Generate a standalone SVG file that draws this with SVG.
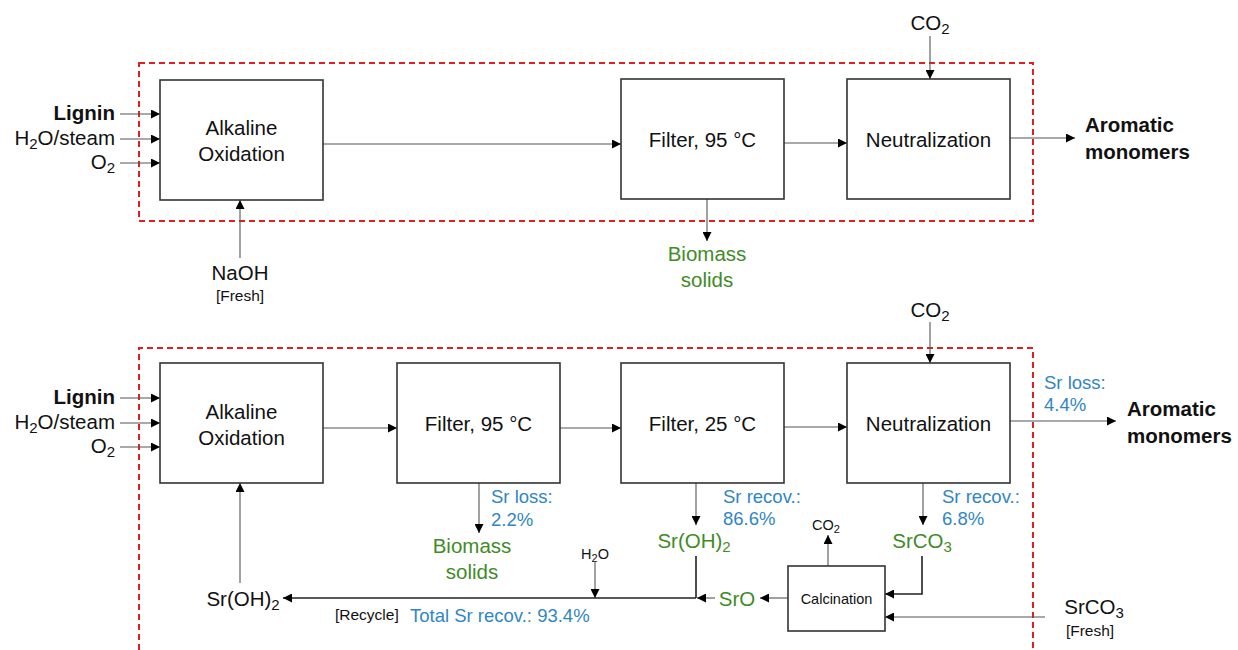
<svg xmlns="http://www.w3.org/2000/svg" width="1238" height="650" viewBox="0 0 1238 650">
<defs>
  <marker id="ah" viewBox="0 0 10 10" refX="10" refY="5" markerWidth="9" markerHeight="9" markerUnits="userSpaceOnUse" orient="auto">
    <path d="M0,0 L10,5 L0,10 Z" fill="#000"/>
  </marker>
  <style>
    text { font-family: "Liberation Sans", Arial, sans-serif; fill: #111; }
    .box { fill: #fff; stroke: #333; stroke-width: 1.6; }
    .lbl { font-size: 20.5px; text-anchor: middle; }
    .feed { font-size: 20.5px; text-anchor: end; }
    .bold { font-weight: bold; }
    .big { font-size: 20.5px; }
    .green { fill: #3f8c27; }
    .blue { fill: #2f86c4; font-size: 18.5px; }
    .small { font-size: 15.5px; }
    .tiny { font-size: 14.5px; }
    .wire { fill: none; stroke: #555; stroke-width: 1.1; }
    .dark { fill: none; stroke: #222; stroke-width: 1.6; }
    .arr { marker-end: url(#ah); }
    .frame { fill: none; stroke: #e02020; stroke-width: 2; stroke-dasharray: 6 4; }
  </style>
</defs>

<!-- process boundaries -->
<rect class="frame" x="139" y="63" width="894" height="158"/>
<path class="frame" d="M139,660 V348 H1033 V660"/>

<!-- connectors -->
<g id="connectors">
  <!-- upper flowsheet -->
  <line class="wire arr" x1="120" y1="114" x2="160" y2="114"/>
  <line class="wire arr" x1="120" y1="139" x2="160" y2="139"/>
  <line class="wire arr" x1="120" y1="163" x2="160" y2="163"/>
  <line class="wire arr" x1="240" y1="258" x2="240" y2="200"/>
  <line class="wire arr" x1="323" y1="144" x2="621" y2="144"/>
  <line class="wire arr" x1="784" y1="143" x2="847" y2="143"/>
  <line class="wire arr" x1="930" y1="36" x2="930" y2="79"/>
  <line class="wire arr" x1="1010" y1="138" x2="1075" y2="138"/>
  <line class="wire arr" x1="707" y1="199" x2="707" y2="241"/>

  <!-- lower flowsheet -->
  <line class="wire arr" x1="120" y1="398" x2="160" y2="398"/>
  <line class="wire arr" x1="120" y1="423" x2="160" y2="423"/>
  <line class="wire arr" x1="120" y1="447" x2="160" y2="447"/>
  <line class="wire arr" x1="323" y1="428" x2="397" y2="428"/>
  <line class="wire arr" x1="560" y1="428" x2="621" y2="428"/>
  <line class="wire arr" x1="784" y1="427" x2="847" y2="427"/>
  <line class="wire arr" x1="930" y1="322" x2="930" y2="363"/>
  <line class="wire arr" x1="1010" y1="421" x2="1116" y2="421"/>
  <line class="wire arr" x1="479" y1="483" x2="479" y2="533"/>
  <line class="wire arr" x1="696" y1="483" x2="696" y2="525"/>
  <line class="wire arr" x1="923" y1="483" x2="923" y2="525"/>
  <line class="wire arr" x1="240" y1="583" x2="240" y2="483"/>
  <line class="wire arr" x1="828" y1="566" x2="828" y2="535"/>
  <line class="wire arr" x1="595" y1="562" x2="595" y2="598"/>
  <!-- recovered solids and recycle -->
  <path class="dark arr" d="M922,556 V594 H885"/>
  <path class="dark" d="M696,556 V598"/>
  <line class="dark arr" x1="696" y1="598" x2="283" y2="598"/>
  <line class="wire arr" x1="788" y1="598" x2="760" y2="598"/>
  <line class="wire arr" x1="715" y1="598" x2="697" y2="598"/>
  <line class="wire arr" x1="1045" y1="617" x2="885" y2="617"/>
</g>

<!-- upper flowsheet units -->
<g id="top-oxidation">
  <rect class="box" x="160" y="80" width="163" height="120"/>
  <text class="lbl" x="241.5" y="135">Alkaline</text>
  <text class="lbl" x="241.5" y="161">Oxidation</text>
</g>
<g id="top-filter95">
  <rect class="box" x="621" y="79" width="163" height="120"/>
  <text class="lbl" x="702.5" y="147">Filter,  95 °C</text>
</g>
<g id="top-neutralization">
  <rect class="box" x="847" y="79" width="163" height="120"/>
  <text class="lbl" x="928.5" y="147">Neutralization</text>
</g>

<!-- upper flowsheet streams -->
<g id="top-streams">
  <text class="feed bold" x="115" y="120">Lignin</text>
  <text class="feed" x="115" y="145">H<tspan font-size="15" dy="4">2</tspan><tspan dy="-4">O/steam</tspan></text>
  <text class="feed" x="115" y="169">O<tspan font-size="15" dy="4">2</tspan></text>
  <text class="lbl" x="240" y="280">NaOH</text>
  <text class="lbl small" x="240" y="301">[Fresh]</text>
  <text class="lbl" x="930" y="30">CO<tspan font-size="15" dy="4">2</tspan></text>
  <text class="lbl green" x="707" y="261">Biomass</text>
  <text class="lbl green" x="707" y="287">solids</text>
  <text class="bold big" x="1085" y="132">Aromatic</text>
  <text class="bold big" x="1085" y="159">monomers</text>
</g>

<!-- lower flowsheet units -->
<g id="bot-oxidation">
  <rect class="box" x="160" y="363" width="163" height="120"/>
  <text class="lbl" x="241.5" y="419">Alkaline</text>
  <text class="lbl" x="241.5" y="445">Oxidation</text>
</g>
<g id="bot-filter95">
  <rect class="box" x="397" y="363" width="163" height="120"/>
  <text class="lbl" x="478.5" y="431">Filter,  95 °C</text>
</g>
<g id="bot-filter25">
  <rect class="box" x="621" y="363" width="163" height="120"/>
  <text class="lbl" x="702.5" y="431">Filter,  25 °C</text>
</g>
<g id="bot-neutralization">
  <rect class="box" x="847" y="363" width="163" height="120"/>
  <text class="lbl" x="928.5" y="431">Neutralization</text>
</g>
<g id="calcination">
  <rect class="box" x="788" y="566" width="97" height="65"/>
  <text class="lbl tiny" x="836.5" y="604">Calcination</text>
</g>

<!-- lower flowsheet streams -->
<g id="bot-streams">
  <text class="feed bold" x="115" y="404">Lignin</text>
  <text class="feed" x="115" y="429">H<tspan font-size="15" dy="4">2</tspan><tspan dy="-4">O/steam</tspan></text>
  <text class="feed" x="115" y="453">O<tspan font-size="15" dy="4">2</tspan></text>
  <text class="lbl" x="930" y="317">CO<tspan font-size="15" dy="4">2</tspan></text>
  <text class="blue" x="1044" y="389">Sr loss:</text>
  <text class="blue" x="1044" y="411">4.4%</text>
  <text class="bold big" x="1127" y="416">Aromatic</text>
  <text class="bold big" x="1127" y="443">monomers</text>

  <text class="blue" x="491" y="503">Sr loss:</text>
  <text class="blue" x="491" y="526">2.2%</text>
  <text class="lbl green" x="472" y="553">Biomass</text>
  <text class="lbl green" x="472" y="579">solids</text>

  <text class="blue" x="723" y="503">Sr recov.:</text>
  <text class="blue" x="723" y="525">86.6%</text>
  <text class="lbl green" x="694" y="548">Sr(OH)<tspan font-size="15" dy="4">2</tspan></text>

  <text class="blue" x="942" y="503">Sr recov.:</text>
  <text class="blue" x="942" y="525">6.8%</text>
  <text class="lbl green" x="922" y="548">SrCO<tspan font-size="15" dy="4">3</tspan></text>

  <text class="lbl tiny" x="826" y="530">CO<tspan font-size="11" dy="3">2</tspan></text>
  <text class="lbl tiny" x="595" y="559">H<tspan font-size="11" dy="3">2</tspan><tspan dy="-3">O</tspan></text>
  <text class="lbl green" x="737" y="606">SrO</text>

  <text class="lbl" x="243" y="606">Sr(OH)<tspan font-size="15" dy="4">2</tspan></text>
  <text class="small" x="335" y="620">[Recycle]</text>
  <text class="blue" x="410" y="622">Total Sr recov.: 93.4%</text>

  <text class="lbl" x="1094" y="614">SrCO<tspan font-size="15" dy="4">3</tspan></text>
  <text class="lbl small" x="1090" y="636">[Fresh]</text>
</g>
</svg>
